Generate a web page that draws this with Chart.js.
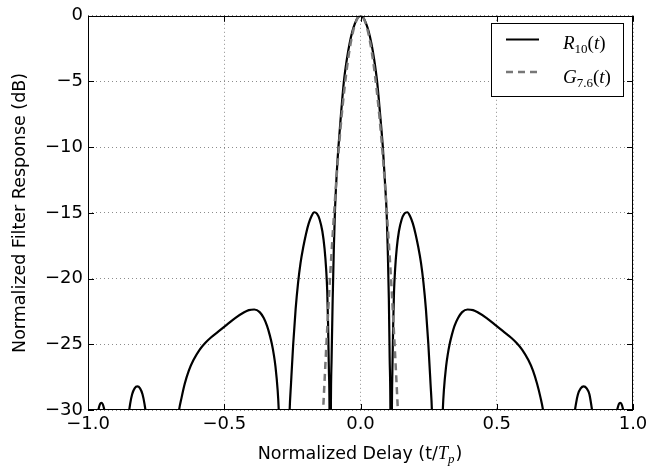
<!DOCTYPE html>
<html>
<head>
<meta charset="utf-8">
<script src="https://cdn.jsdelivr.net/npm/chart.js@4"></script>
<style>
  html, body { margin: 0; padding: 0; background: #fff; }
</style>
</head>
<body>
<canvas id="chart" width="663" height="467"></canvas>
<script>
// R10(t) filter response (dB vs t/Tp)
const respT = [
  -1.0, -0.975, -0.966, -0.961, -0.956, -0.951, -0.946, -0.941, -0.936, -0.925,
  -0.9, -0.87, -0.852, -0.845, -0.838, -0.829, -0.819, -0.809, -0.8, -0.793, -0.786, -0.77,
  -0.73, -0.69, -0.668, -0.656, -0.645, -0.63, -0.613, -0.59, -0.57, -0.55, -0.52, -0.49,
  -0.46, -0.43, -0.41, -0.39, -0.37, -0.355, -0.343, -0.333, -0.325, -0.318, -0.312, -0.304,
  -0.3, -0.295, -0.28, -0.265, -0.26, -0.255, -0.247, -0.238, -0.229, -0.22, -0.21, -0.2,
  -0.19, -0.18, -0.17, -0.16, -0.15, -0.14, -0.132, -0.126, -0.122, -0.119, -0.116, -0.1135,
  -0.1115, -0.109, -0.106, -0.102, -0.098, -0.094, -0.088, -0.081, -0.072, -0.061, -0.05,
  -0.04, -0.03, -0.02, -0.01, 0,
  0.01, 0.02, 0.03, 0.04, 0.05, 0.061, 0.072, 0.082, 0.089, 0.096, 0.1, 0.104, 0.107, 0.11,
  0.1125, 0.115, 0.117, 0.12, 0.123, 0.127, 0.133, 0.141, 0.151, 0.161, 0.172, 0.182, 0.192,
  0.202, 0.212, 0.222, 0.231, 0.24, 0.249, 0.257, 0.262, 0.267, 0.282, 0.297, 0.302, 0.306,
  0.314, 0.32, 0.327, 0.335, 0.345, 0.358, 0.373, 0.393, 0.413, 0.433, 0.463, 0.493, 0.523,
  0.553, 0.573, 0.593, 0.616, 0.633, 0.648, 0.66, 0.672, 0.695, 0.735, 0.77, 0.784, 0.791,
  0.798, 0.808, 0.819, 0.83, 0.84, 0.846, 0.853, 0.87, 0.9, 0.926, 0.937, 0.943, 0.948,
  0.953, 0.958, 0.963, 0.968, 0.978, 1.0
];
const respDb = [
  -45, -36, -30.5, -29.9, -29.55, -29.45, -29.55, -29.9, -30.5, -36,
  -50, -36, -30.6, -29.5, -28.8, -28.35, -28.2, -28.35, -28.8, -29.5, -30.6, -36,
  -50, -35, -30.3, -29.0, -28.0, -27.0, -26.2, -25.4, -24.9, -24.5, -24.0, -23.5,
  -23.0, -22.6, -22.4, -22.35, -22.55, -23.0, -23.6, -24.3, -25.0, -25.8, -26.7, -28.5,
  -30, -33, -50, -34, -30, -28, -25, -22.3, -20.3, -18.8, -17.6, -16.6,
  -15.8, -15.25, -14.95, -15.05, -15.5, -16.4, -17.7, -19.3, -21, -23.5, -27, -31,
  -50, -31, -26, -21.5, -17.8, -15, -12.3, -10, -7.6, -5, -3.3,
  -2.1, -1.2, -0.55, -0.14, 0,
  -0.14, -0.55, -1.2, -2.1, -3.3, -5, -7.5, -10, -12.4, -15, -17.8, -21.5, -26, -31,
  -50, -31, -27, -23.5, -21, -19.3, -17.7, -16.4, -15.5, -15.05, -14.95, -15.25, -15.8,
  -16.6, -17.6, -18.8, -20.3, -22.3, -25, -28, -30, -34, -50, -33, -30, -28.5,
  -26.7, -25.8, -25, -24.3, -23.6, -23.0, -22.55, -22.35, -22.4, -22.6, -23, -23.5, -24,
  -24.5, -24.9, -25.4, -26.2, -27, -28, -29, -30.3, -35, -50, -36, -30.6, -29.5,
  -28.8, -28.35, -28.2, -28.35, -28.8, -29.5, -30.6, -36, -50, -36, -30.5, -29.9, -29.55,
  -29.45, -29.55, -29.9, -30.5, -36, -45
];

// G7.6(t) gaussian reference
const gaussT = [
  -0.15, -0.14, -0.13, -0.12, -0.11, -0.1, -0.09, -0.08, -0.07, -0.06, -0.05, -0.04, -0.03, -0.02, -0.01,
  0, 0.01, 0.02, 0.03, 0.04, 0.05, 0.06, 0.07, 0.08, 0.09, 0.1, 0.11, 0.12, 0.13, 0.14, 0.15
];
const gaussDb = [
  -36, -31.3, -27, -23, -19.3, -16, -12.9, -10.2, -7.8, -5.75, -4, -2.56, -1.44, -0.64, -0.16,
  0, -0.16, -0.64, -1.44, -2.56, -4, -5.75, -7.8, -10.2, -12.9, -16, -19.3, -23, -27, -31.3, -36
];

const xTicks = [-1, -0.5, 0, 0.5, 1];
const yTicks = [-30, -25, -20, -15, -10, -5, 0];

const toPoints = (xs, ys) => xs.map((x, i) => ({ x: x, y: ys[i] }));
const minus = (s) => s.replace("-", "\u2212");

const SANS = "'DejaVu Sans', sans-serif";
const SERIF = "'Liberation Serif', 'DejaVu Serif', serif";

// draw a line of mixed-font text runs
const drawRuns = (ctx, runs, x, y, align) => {
  let total = 0;
  runs.forEach((r) => {
    ctx.font = r.font;
    total += ctx.measureText(r.text).width + (r.dx || 0);
  });
  let cx = align === "center" ? x - total / 2 : x;
  ctx.textBaseline = "alphabetic";
  ctx.textAlign = "left";
  runs.forEach((r) => {
    ctx.font = r.font;
    ctx.fillText(r.text, cx, y + (r.dy || 0));
    cx += ctx.measureText(r.text).width + (r.dx || 0);
  });
};

const framePlugin = {
  id: "frame",
  afterDatasetsDraw(chart) {
    const { ctx, chartArea: a, scales } = chart;
    ctx.save();
    ctx.strokeStyle = "#000";
    ctx.lineWidth = 1;
    ctx.strokeRect(Math.round(a.left) + 0.5, Math.round(a.top) + 0.5,
      Math.round(a.right - a.left) - 1, Math.round(a.bottom - a.top) - 1);
    // inward ticks on all four sides
    const len = 6;
    ctx.beginPath();
    xTicks.forEach((v) => {
      const px = Math.round(scales.x.getPixelForValue(v)) + 0.5;
      ctx.moveTo(px, a.bottom); ctx.lineTo(px, a.bottom - len);
      ctx.moveTo(px, a.top); ctx.lineTo(px, a.top + len);
    });
    yTicks.forEach((v) => {
      const py = Math.round(scales.y.getPixelForValue(v)) + 0.5;
      ctx.moveTo(a.left, py); ctx.lineTo(a.left + len, py);
      ctx.moveTo(a.right, py); ctx.lineTo(a.right - len, py);
    });
    ctx.stroke();

    // legend box
    const bx = 491, by = 23, bw = 132, bh = 73;
    ctx.fillStyle = "#fff";
    ctx.fillRect(bx, by, bw, bh);
    ctx.strokeRect(bx + 0.5, by + 0.5, bw, bh);
    ctx.lineWidth = 2.2;
    ctx.strokeStyle = "#000";
    ctx.beginPath();
    ctx.moveTo(506, 39.5); ctx.lineTo(539, 39.5);
    ctx.stroke();
    ctx.strokeStyle = "#777";
    ctx.lineWidth = 2.5;
    ctx.setLineDash([7, 5]);
    ctx.beginPath();
    ctx.moveTo(506, 72); ctx.lineTo(539, 72);
    ctx.stroke();
    ctx.setLineDash([]);
    ctx.fillStyle = "#000";
    drawRuns(ctx, [
      { text: "R", font: "italic 19px " + SERIF },
      { text: "10", font: "13px " + SERIF, dy: 4 },
      { text: "(", font: "19px " + SERIF },
      { text: "t", font: "italic 19px " + SERIF },
      { text: ")", font: "19px " + SERIF },
    ], 563, 49, "left");
    drawRuns(ctx, [
      { text: "G", font: "italic 19px " + SERIF },
      { text: "7.6", font: "13px " + SERIF, dy: 4 },
      { text: "(", font: "19px " + SERIF },
      { text: "t", font: "italic 19px " + SERIF },
      { text: ")", font: "19px " + SERIF },
    ], 563, 83, "left");

    // x axis title with math Tp
    drawRuns(ctx, [
      { text: "Normalized Delay (t/", font: "17.5px " + SANS },
      { text: "T", font: "italic 18px " + SERIF },
      { text: "p", font: "italic 13px " + SERIF, dy: 4, dx: 1 },
      { text: ")", font: "17.5px " + SANS },
    ], 360, 459, "center");
    ctx.restore();
  },
};

const ctx = document.getElementById("chart").getContext("2d");
new Chart(ctx, {
  type: "line",
  data: {
    datasets: [
      {
        label: "G7.6(t)",
        data: toPoints(gaussT, gaussDb),
        borderColor: "#777",
        borderWidth: 2.5,
        borderDash: [7, 5],
        pointRadius: 0,
        fill: false,
        cubicInterpolationMode: "monotone",
        order: 0,
      },
      {
        label: "R10(t)",
        data: toPoints(respT, respDb),
        borderColor: "#000",
        borderWidth: 2.2,
        pointRadius: 0,
        fill: false,
        cubicInterpolationMode: "monotone",
        order: 1,
      },
    ],
  },
  options: {
    responsive: false,
    animation: false,
    devicePixelRatio: 1,
    layout: {
      padding: { top: 11, right: 30, left: 0, bottom: 0 },
    },
    plugins: {
      legend: { display: false },
      tooltip: { enabled: false },
    },
    scales: {
      x: {
        type: "linear",
        min: -1,
        max: 1,
        afterFit: (scale) => { scale.height = 57; },
        ticks: {
          stepSize: 0.5,
          color: "#000",
          padding: 4,
          maxRotation: 0,
          font: { family: SANS, size: 18 },
          callback: (v) => minus(Number(v).toFixed(1)),
        },
        grid: {
          color: "rgba(0,0,0,0.45)",
          lineWidth: 1,
          drawTicks: false,
        },
        border: { display: false, dash: [1, 3] },
      },
      y: {
        type: "linear",
        min: -30,
        max: 0,
        afterFit: (scale) => { scale.width = 88; },
        ticks: {
          stepSize: 5,
          color: "#000",
          padding: 5,
          font: { family: SANS, size: 18 },
          callback: (v) => minus(String(v)),
        },
        grid: {
          color: "rgba(0,0,0,0.45)",
          lineWidth: 1,
          drawTicks: false,
        },
        border: { display: false, dash: [1, 3] },
        title: {
          display: true,
          text: "Normalized Filter Response (dB)",
          color: "#000",
          font: { family: SANS, size: 17.5 },
          padding: { top: 10, bottom: 0 },
        },
      },
    },
  },
  plugins: [framePlugin],
});
</script>
</body>
</html>
